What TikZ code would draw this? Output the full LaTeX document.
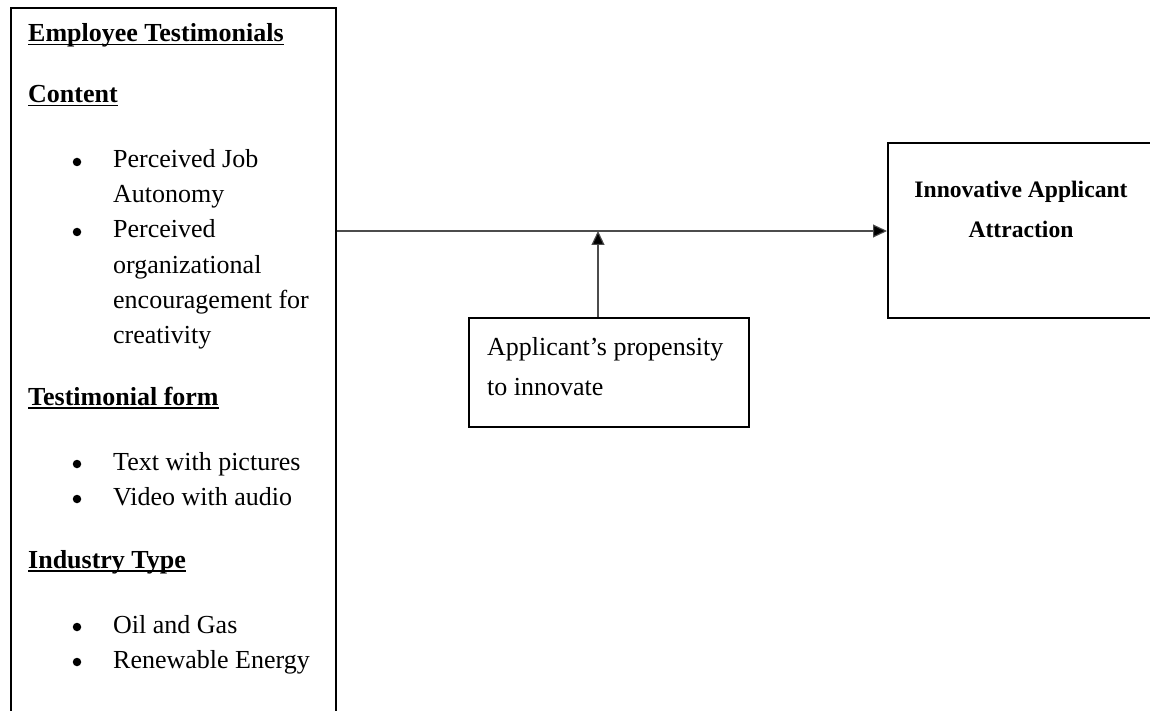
\documentclass[tikz,border=0pt]{standalone}
\usepackage{fontspec}
\setmainfont{Liberation Serif}
\usetikzlibrary{arrows.meta}
\newcommand\myul[1]{\setbox0\hbox{#1}\rlap{\rule[-3.5pt]{\wd0}{1.5pt}}\box0}
\begin{document}
\begin{tikzpicture}[x=1pt,y=-1pt,
  box/.style={draw=black,line width=2pt,inner sep=0pt},
  txt/.style={anchor=base west,inner sep=0pt,font=\fontsize{26}{30}\selectfont},
  hd/.style={anchor=base west,inner sep=0pt,font=\fontsize{26}{30}\selectfont\bfseries},
  bul/.style={circle,fill=black,inner sep=0pt,minimum size=8.5pt},
  rt/.style={anchor=base,inner sep=0pt,font=\fontsize{23.6}{28}\selectfont\bfseries},
  conn/.style={line width=1.1pt,draw=black!70,-{Triangle[length=14pt,width=13pt,fill=black]}}]
\useasboundingbox (0,0) rectangle (1150,711);
\clip (0,0) rectangle (1150,711);
% boxes
\node[box,anchor=north west,minimum width=325pt,minimum height=760pt] (left) at (10,7) {};
\node[box,anchor=north west,minimum width=300pt,minimum height=175pt] (right) at (887,142) {};
\node[box,anchor=north west,minimum width=280pt,minimum height=109pt] (mid) at (468,317) {};
% left box text
\node[hd] (h1) at (28,42) {\myul{Employee Testimonials}};
\node[hd] (h2) at (28,103) {\myul{Content}};
\node[bul] (b1) at (77,162) {};
\node[txt] (t1) at (113,168) {Perceived Job};
\node[txt] (t2) at (113,203) {Autonomy};
\node[bul] (b2) at (77,232) {};
\node[txt] (t3) at (113,238) {Perceived};
\node[txt] (t4) at (113,273) {organizational};
\node[txt] (t5) at (113,308) {encouragement for};
\node[txt] (t6) at (113,343) {creativity};
\node[hd] (h3) at (28,405) {\myul{Testimonial form}};
\node[bul] (b3) at (77,464) {};
\node[txt] (t7) at (113,470) {Text with pictures};
\node[bul] (b4) at (77,499) {};
\node[txt] (t8) at (113,505) {Video with audio};
\node[hd] (h4) at (28,568) {\myul{Industry Type}};
\node[bul] (b5) at (77,627) {};
\node[txt] (t9) at (113,633) {Oil and Gas};
\node[bul] (b6) at (77,662) {};
\node[txt] (t10) at (113,668) {Renewable Energy};
% right box text
\node[rt] (r1) at (1021,198) {Innovative Applicant};
\node[rt] (r2) at (1021,238) {Attraction};
% middle box text
\node[txt] (m1) at (487,355) {Applicant’s propensity};
\node[txt] (m2) at (487,395) {to innovate};
% connectors
\coordinate (j) at (598,231);
\draw[conn] (j -| left.east) -- (j -| right.west);
\draw[conn] (mid.north -| j) -- (j);
\end{tikzpicture}
\end{document}
